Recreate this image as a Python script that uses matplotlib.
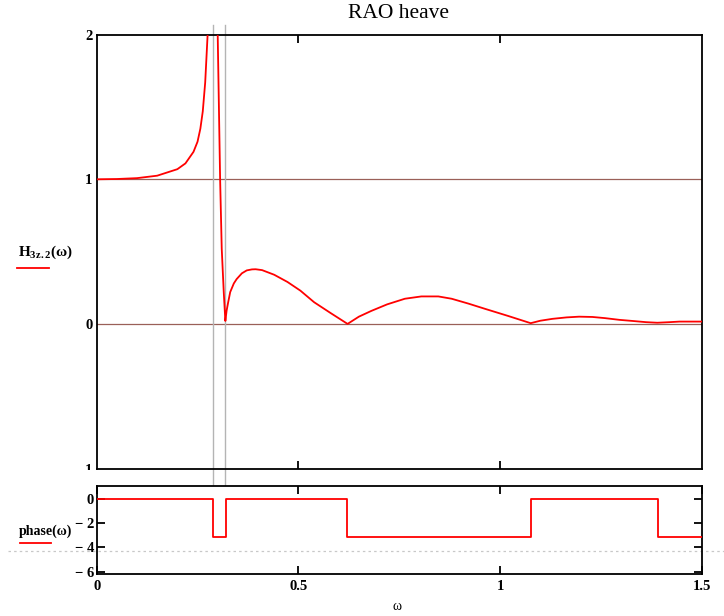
import matplotlib
matplotlib.use("Agg")
import matplotlib.pyplot as plt
from matplotlib.lines import Line2D
from matplotlib.transforms import Bbox, TransformedBbox
import numpy as np

plt.rcParams['font.family'] = ['Liberation Serif', 'DejaVu Serif']
plt.rcParams['mathtext.default'] = 'regular'

# ---- data ----
omega_H = [0.0, 0.05, 0.10, 0.15, 0.20, 0.22, 0.24, 0.25, 0.257, 0.263, 0.269, 0.275,
           0.280, 0.285, 0.295, 0.300, 0.303, 0.306, 0.310, 0.315, 0.319, 0.322, 0.326,
           0.331, 0.340, 0.347, 0.360, 0.372, 0.385, 0.394, 0.41, 0.44, 0.473, 0.505,
           0.539, 0.58, 0.622, 0.65, 0.681, 0.72, 0.764, 0.805, 0.847, 0.88, 0.922,
           0.963, 1.02, 1.076, 1.10, 1.13, 1.165, 1.196, 1.229, 1.26, 1.296, 1.33,
           1.362, 1.39, 1.42, 1.445, 1.5]
H_vals = [1.0, 1.002, 1.008, 1.025, 1.07, 1.11, 1.19, 1.26, 1.35, 1.47, 1.67, 2.0,
          2.6, 5.0, 3.0, 2.0, 1.5, 1.0, 0.52, 0.22, 0.02, 0.09, 0.15,
          0.22, 0.28, 0.31, 0.35, 0.37, 0.377, 0.378, 0.372, 0.34, 0.29, 0.23,
          0.15, 0.075, 0.0, 0.05, 0.09, 0.135, 0.174, 0.19, 0.19, 0.174, 0.14,
          0.104, 0.055, 0.005, 0.022, 0.035, 0.045, 0.05, 0.048, 0.04, 0.028, 0.02,
          0.012, 0.008, 0.012, 0.016, 0.016]

phase_breaks = [0.0, 0.289, 0.320, 0.621, 1.077, 1.392, 1.5]
phase_vals = [0.0, -3.14, 0.0, -3.14, 0.0, -3.14, -3.14]

marker_omegas = [0.289, 0.319]
marker_levels = [1.0, 0.0]
dotted_level = -4.3

top_yticks = [2, 1, 0, -1]
top_yticklabels = ['2', '1', '0', '1']
bot_yticks = [0, -2, -4, -6]
bot_yticklabels = ['0', '\u2212 2', '\u2212 4', '\u2212 6']
xticks = [0, 0.5, 1, 1.5]
xticklabels = ['0', '0.5', '1', '1.5']

W, Hpx = 724, 616
fig = plt.figure(figsize=(W / 100, Hpx / 100), dpi=100)

def fx(px):
    return px / W

def fy(py):
    return 1 - py / Hpx

left, right = 96.7, 701.7
ax1 = fig.add_axes([fx(left), fy(468.5), fx(right - left), (468.5 - 34.7) / Hpx])
ax2 = fig.add_axes([fx(left), fy(574), fx(right - left), (574 - 486) / Hpx])

red = '#ff0000'
brown = '#9a6058'
grey = '#b4b4b4'

for ax in (ax1, ax2):
    for s in ax.spines.values():
        s.set_linewidth(1.3)
    ax.tick_params(direction='in', length=6, width=1.3, top=True, right=True,
                   labelsize=10.5)
    ax.set_xlim(0, 1.5)

# top plot
for lv in marker_levels:
    ax1.axhline(lv, color=brown, lw=0.9, zorder=1)
ax1.plot(omega_H, H_vals, color=red, lw=1.3, zorder=3)
ax1.set_ylim(-1, 2)
ax1.set_yticks(top_yticks)
ax1.set_yticklabels(top_yticklabels, fontweight='bold')
ax1.set_xticks([0.5, 1.0])
ax1.tick_params(axis='x', labelbottom=False)
ax1.tick_params(axis='y', length=0, right=False, pad=3)

# clip the bottom "-1" label like the reference
fig.canvas.draw()
t = ax1.yaxis.get_major_ticks()[3].label1
t.set_clip_box(TransformedBbox(Bbox([[-0.2, -0.003], [0.0, 1.0]]), ax1.transAxes))
t.set_clip_on(True)

for om in marker_omegas:
    ax1.axvline(om, ymin=-0.040, ymax=1.023, color=grey, lw=1.0, clip_on=False, zorder=2)

# bottom plot
ax2.step(phase_breaks, phase_vals, where='post', color=red, lw=1.3, zorder=3)
ax2.set_ylim(-6.2, 1.05)
ax2.set_yticks(bot_yticks)
ax2.set_yticklabels(bot_yticklabels, fontweight='bold')
ax2.set_xticks(xticks)
ax2.set_xticklabels(xticklabels, fontweight='bold')
ax2.tick_params(axis='y', pad=2)
ax2.tick_params(axis='x', pad=4)
ax2.axhline(dotted_level, xmin=-0.147, xmax=1.04, color='#c8c8c8', lw=0.9,
            ls=(0, (2, 2.5)), clip_on=False, zorder=0)

# title and labels
fig.text(fx(399), fy(14), 'RAO heave', ha='center', va='center', fontsize=15.5)
fig.text(fx(18), fy(252), 'H$_{3z.2}$(\u03c9)', ha='left', va='center', fontsize=11,
         fontweight='bold')
fig.add_artist(Line2D([fx(17), fx(49)], [fy(268), fy(268)], color=red, lw=1.3,
                      transform=fig.transFigure))
fig.text(fx(19), fy(531), 'phase(\u03c9)', ha='left', va='center', fontsize=10,
         fontweight='bold')
fig.add_artist(Line2D([fx(20), fx(51)], [fy(543), fy(543)], color=red, lw=1.3,
                      transform=fig.transFigure))
fig.text(fx(397), fy(607), '\u03c9', ha='center', va='center', fontsize=10)

fig.savefig('out.png', dpi=100)
